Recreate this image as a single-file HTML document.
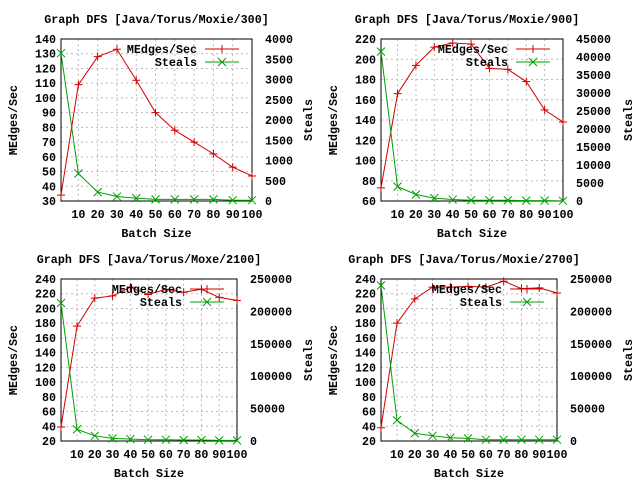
<!DOCTYPE html>
<html><head><meta charset="utf-8"><style>
html,body{margin:0;padding:0;background:#fff}
svg{display:block}
text{font-family:"Liberation Mono",monospace;font-weight:bold;font-size:11.7px;fill:#000}
</style></head><body>
<svg id="c" width="640" height="480"></svg>
<script>
const xs=[1,10,20,30,40,50,60,70,80,90,100];
const xTicks=[10,20,30,40,50,60,70,80,90,100];
const titles=["Graph DFS [Java/Torus/Moxie/300]","Graph DFS [Java/Torus/Moxie/900]","Graph DFS [Java/Torus/Moxe/2100]","Graph DFS [Java/Torus/Moxie/2700]"];
const medges1=[34,109,128,133,112,90,78,70,62,53,47];
const steals1=[3650,680,220,110,70,40,40,40,40,20,20];
const medges2=[73,166,194,212,216,215,191,190,178,150,138];
const steals2=[41500,4000,1800,800,400,200,200,200,100,100,50];
const medges3=[39,176,214,217,229,219,226,222,226,215,211];
const steals3=[213000,18000,8000,4000,3000,2000,2000,1500,1500,1000,1000];
const medges4=[38,180,213,229,229,230,229,237,227,228,221];
const steals4=[240000,32000,12000,8000,5000,4000,2000,2000,2000,2000,2000];
const yLeftTicks=[[30,40,50,60,70,80,90,100,110,120,130,140],[60,80,100,120,140,160,180,200,220],[20,40,60,80,100,120,140,160,180,200,220,240],[20,40,60,80,100,120,140,160,180,200,220,240]];
const yRightTicks=[[0,500,1000,1500,2000,2500,3000,3500,4000],[0,5000,10000,15000,20000,25000,30000,35000,40000,45000],[0,50000,100000,150000,200000,250000],[0,50000,100000,150000,200000,250000]];
const medges=[medges1,medges2,medges3,medges4];
const steals=[steals1,steals2,steals3,steals4];
const panels=[{ox:0,oy:0,r:252},{ox:320,oy:0,r:243},{ox:0,oy:240,r:237},{ox:320,oy:240,r:237}];
const NS="http://www.w3.org/2000/svg";
const svg=document.getElementById('c');
function mk(t,a,p){const e=document.createElementNS(NS,t);for(const k in a)e.setAttribute(k,a[k]);(p||svg).appendChild(e);return e;}
function txt(p,x,y,s,anchor,extra){const e=mk('text',Object.assign({x:x,y:y,'text-anchor':anchor||'start'},extra||{}),p);e.textContent=s;return e;}
function plus(g,x,y,c){mk('path',{d:`M${x-4},${y}h8M${x},${y-4}v8`,stroke:c,'stroke-width':1},g);}
function cross(g,x,y,c){mk('path',{d:`M${x-4},${y-4}l8,8M${x-4},${y+4}l8,-8`,stroke:c,'stroke-width':1},g);}
panels.forEach((P,i)=>{
  const g=mk('g',{transform:`translate(${P.ox},${P.oy})`});
  
  
  const L=61,R=P.r,T=39,B=201;
  const lt=yLeftTicks[i],rt=yRightTicks[i];
  const ymin=lt[0],ymax=lt[lt.length-1],rmax=rt[rt.length-1];
  const sx=v=>L+(v-1)/99*(R-L);
  const sy=v=>B-(v-ymin)/(ymax-ymin)*(B-T);
  const sy2=v=>B-v/rmax*(B-T);
  xTicks.forEach(t=>{if(t<100)mk('line',{x1:sx(t),x2:sx(t),y1:T,y2:B,stroke:'#bbb','stroke-dasharray':'2,3'},g);});
  lt.forEach(t=>{if(t>ymin&&t<ymax)mk('line',{x1:L,x2:R,y1:sy(t),y2:sy(t),stroke:'#bbb','stroke-dasharray':'2,3'},g);});
  mk('rect',{x:L,y:T,width:R-L,height:B-T,fill:'none',stroke:'#000'},g);
  lt.forEach(t=>{const l=txt(g,56,sy(t)+4,String(t),'end');});
  rt.forEach(t=>{const l=txt(g,R+13,sy2(t)+4,String(t),'start');});
  xTicks.forEach(t=>{const l=txt(g,sx(t),218,String(t),'middle');});
  const ti=txt(g,(L+R)/2+(i%2?-5:0),23,titles[i],'middle');
  
  const xl=txt(g,(L+R)/2,237,'Batch Size','middle');
  
  const yl=txt(g,0,0,'MEdges/Sec','middle',{transform:`translate(17,120) rotate(-90)`});
  
  const y2=txt(g,0,0,'Steals','middle',{transform:`translate(312,120) rotate(-90)`});
  
  const red='#d00000',green='#00a000';
  const pm=mk('polyline',{points:xs.map((x,k)=>sx(x)+','+sy(medges[i][k])).join(' '),fill:'none',stroke:red},g);
  
  xs.forEach((x,k)=>plus(g,sx(x),sy(medges[i][k]),red));
  const ps=mk('polyline',{points:xs.map((x,k)=>sx(x)+','+sy2(steals[i][k])).join(' '),fill:'none',stroke:green},g);
  
  xs.forEach((x,k)=>cross(g,sx(x),sy2(steals[i][k]),green));
  const lx=R-47;
  const l1=txt(g,lx-8,53,'MEdges/Sec','end');
  mk('line',{x1:lx,x2:lx+34,y1:49,y2:49,stroke:red},g);plus(g,lx+17,49,red);
  const l2=txt(g,lx-8,66,'Steals','end');
  mk('line',{x1:lx,x2:lx+34,y1:62,y2:62,stroke:green},g);cross(g,lx+17,62,green);
});
</script>
</body></html>
